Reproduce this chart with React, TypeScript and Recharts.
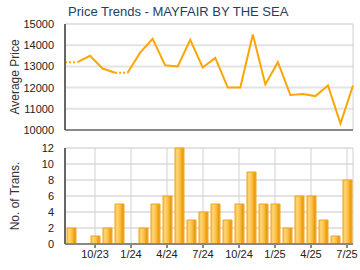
import React from "react";
import {
  ComposedChart,
  Line,
  Bar,
  XAxis,
  YAxis,
  CartesianGrid,
} from "recharts";

// months Aug 2023 .. Jul 2025
const months = [
  "8/23", "9/23", "10/23", "11/23", "12/23",
  "1/24", "2/24", "3/24", "4/24", "5/24", "6/24", "7/24",
  "8/24", "9/24", "10/24", "11/24", "12/24",
  "1/25", "2/25", "3/25", "4/25", "5/25", "6/25", "7/25",
];

// average price; null where a month has no sales
const price = [
  13200, null, 13500, 12900, 12700, null, 13650, 14300,
  13050, 13000, 14250, 12950, 13400, 12000, 12000, 14500,
  12150, 13200, 11650, 11700, 11600, 12100, 10300, 12100,
];

// filled-in values drawn dotted across gaps
const priceGap = [
  13200, 13200, null, null, 12700, 12700, null, null,
  null, null, null, null, null, null, null, null,
  null, null, null, null, null, null, null, null,
];

const trans = [
  2, 0, 1, 2, 5, 0, 2, 5, 6, 12, 3, 4,
  5, 3, 5, 9, 5, 5, 2, 6, 6, 3, 1, 8,
];

const xTicks = ["10/23", "1/24", "4/24", "7/24", "10/24", "1/25", "4/25", "7/25"];
const priceTicks = [10000, 11000, 12000, 13000, 14000, 15000];
const transTicks = [0, 2, 4, 6, 8, 10, 12];

// split solid line so that the gap months aren't joined by a solid segment
const data = months.map((m, i) => ({
  m,
  solidA: i >= 1 && i <= 4 ? price[i] ?? priceGap[i] : null,
  solidB: i >= 5 ? price[i] ?? priceGap[i] : null,
  gap: priceGap[i],
  trans: trans[i],
}));

const ORANGE = "#ffa500";
const FONT = "'Liberation Sans', Arial, sans-serif";
const tickStyle = { fill: "#222", fontSize: 11, fontFamily: FONT };

const AxisTitle = ({ text, top }: { text: string; top: number }) => (
  <div
    style={{
      position: "absolute",
      left: 15,
      top,
      transform: "translate(-50%, -50%) rotate(-90deg)",
      whiteSpace: "nowrap",
      fontSize: 12,
      color: "#333",
      fontFamily: FONT,
    }}
  >
    {text}
  </div>
);

export default function App() {
  return (
    <div
      style={{
        position: "absolute",
        left: 0,
        top: 0,
        width: 360,
        height: 270,
        background: "#fff",
        fontFamily: FONT,
        overflow: "hidden",
      }}
    >
      <div
        style={{
          position: "absolute",
          left: 68,
          top: 4,
          fontSize: 13,
          color: "#1b3f66",
        }}
      >
        Price Trends - MAYFAIR BY THE SEA
      </div>
      <AxisTitle text="Average Price" top={77} />
      <AxisTitle text="No. of Trans." top={196} />

      <div style={{ position: "absolute", left: 0, top: 0 }}>
        <ComposedChart
          width={360}
          height={140}
          data={data}
          margin={{ top: 24, right: 7, bottom: 8, left: 15 }}
        >
          <CartesianGrid vertical={false} stroke="#e3e3e3" strokeWidth={2} />
          <CartesianGrid horizontal={false} stroke="#d0d0d0" strokeWidth={1} />
          <XAxis
            dataKey="m"
            ticks={xTicks}
            interval={0}
            tick={false}
            tickLine={false}
            height={2}
            stroke="#888"
            strokeWidth={2}
          />
          <YAxis
            domain={[10000, 15000]}
            ticks={priceTicks}
            interval={0}
            width={50}
            tickLine={false}
            tickSize={0}
            tickMargin={11}
            tick={tickStyle}
            stroke="#666"
            strokeWidth={2}
          />
          <Line
            dataKey="gap"
            stroke={ORANGE}
            strokeWidth={2}
            strokeDasharray="2 2"
            dot={false}
            isAnimationActive={false}
          />
          <Line
            dataKey="solidA"
            stroke={ORANGE}
            strokeWidth={2}
            dot={false}
            isAnimationActive={false}
          />
          <Line
            dataKey="solidB"
            stroke={ORANGE}
            strokeWidth={2}
            dot={false}
            isAnimationActive={false}
          />
        </ComposedChart>
      </div>

      <div style={{ position: "absolute", left: 0, top: 138 }}>
        <ComposedChart
          width={360}
          height={132}
          data={data}
          margin={{ top: 10, right: 7, bottom: 6, left: 15 }}
          barCategoryGap={0}
        >
          <defs>
            <linearGradient id="barFill" x1="0" y1="0" x2="1" y2="0">
              <stop offset="0%" stopColor="#ffc24a" />
              <stop offset="25%" stopColor="#ffd676" />
              <stop offset="60%" stopColor="#f9bb3c" />
              <stop offset="85%" stopColor="#ec9a0c" />
              <stop offset="100%" stopColor="#f4ac2a" />
            </linearGradient>
          </defs>
          <CartesianGrid vertical={false} stroke="#e3e3e3" strokeWidth={2} />
          <CartesianGrid horizontal={false} stroke="#d0d0d0" strokeWidth={1} />
          <XAxis
            dataKey="m"
            ticks={xTicks}
            interval={0}
            tick={tickStyle}
            tickSize={4}
            tickMargin={2}
            height={20}
            stroke="#888"
            strokeWidth={2}
          />
          <YAxis
            domain={[0, 12]}
            ticks={transTicks}
            interval={0}
            width={50}
            tickLine={false}
            tickSize={0}
            tickMargin={11}
            tick={tickStyle}
            stroke="#666"
            strokeWidth={2}
          />
          <Bar
            dataKey="trans"
            barSize={9}
            fill="url(#barFill)"
            stroke="#f2a31a"
            strokeWidth={1}
            isAnimationActive={false}
          />
        </ComposedChart>
      </div>
    </div>
  );
}
